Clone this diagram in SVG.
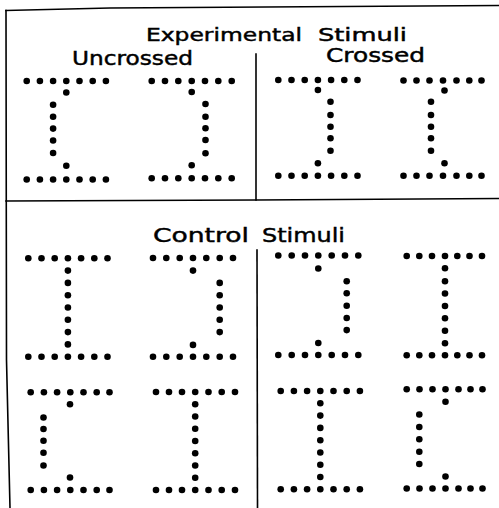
<svg xmlns="http://www.w3.org/2000/svg" width="499" height="508" viewBox="0 0 499 508">
<style>
.frame{fill:none;stroke:#000;stroke-width:1.6;stroke-linecap:square}
.t{font-family:"DejaVu Sans","Liberation Sans",sans-serif;fill:#000;stroke:#000;stroke-width:0.45}
circle{fill:#000}
</style>
<rect width="499" height="508" fill="#fff"/>
<g id="connectors">
<path class="frame" d="M6,10.5 L110,8 L499,5.5"/>
<path class="frame" d="M6,10.5 L6.5,360 L10,508"/>
<path class="frame" d="M6,201 L256,200 L499,198.5"/>
<path class="frame" d="M256,54 L256,200"/>
<path class="frame" d="M257,250 L257.5,508"/>
</g>
<g id="labels">
<text class="t" y="41" font-size="18"><tspan x="146" textLength="156" lengthAdjust="spacingAndGlyphs">Experimental</tspan><tspan x="318" textLength="89" lengthAdjust="spacingAndGlyphs">Stimuli</tspan></text>
<text class="t" x="72" y="65" font-size="19" textLength="121" lengthAdjust="spacingAndGlyphs">Uncrossed</text>
<text class="t" x="326" y="62" font-size="19" textLength="99" lengthAdjust="spacingAndGlyphs">Crossed</text>
<text class="t" y="242" font-size="20"><tspan x="153" textLength="96" lengthAdjust="spacingAndGlyphs">Control</tspan><tspan x="262" textLength="83" lengthAdjust="spacingAndGlyphs">Stimuli</tspan></text>
</g>
<g id="exp-uncrossed-1">
<circle cx="26.7" cy="81" r="3.3"/><circle cx="39.9" cy="81" r="3.3"/><circle cx="53.1" cy="81" r="3.3"/><circle cx="66.3" cy="81" r="3.3"/><circle cx="79.5" cy="81" r="3.3"/><circle cx="92.7" cy="81" r="3.3"/><circle cx="105.9" cy="81" r="3.3"/>
<circle cx="66.3" cy="92.5" r="3.3"/>
<circle cx="53.1" cy="104.8" r="3.3"/><circle cx="53.1" cy="116.8" r="3.3"/><circle cx="53.1" cy="128.6" r="3.3"/><circle cx="53.1" cy="140.5" r="3.3"/><circle cx="53.1" cy="153" r="3.3"/>
<circle cx="66.3" cy="165.8" r="3.3"/>
<circle cx="26.7" cy="179.5" r="3.3"/><circle cx="39.9" cy="179.5" r="3.3"/><circle cx="53.1" cy="179.5" r="3.3"/><circle cx="66.3" cy="179.5" r="3.3"/><circle cx="79.5" cy="179.5" r="3.3"/><circle cx="92.7" cy="179.5" r="3.3"/><circle cx="105.9" cy="179.5" r="3.3"/>
</g>
<g id="exp-uncrossed-2">
<circle cx="151.7" cy="81" r="3.3"/><circle cx="165" cy="81" r="3.3"/><circle cx="178.3" cy="81" r="3.3"/><circle cx="191.7" cy="81" r="3.3"/><circle cx="205" cy="81" r="3.3"/><circle cx="218.3" cy="81" r="3.3"/><circle cx="231.7" cy="81" r="3.3"/>
<circle cx="191.7" cy="92" r="3.3"/>
<circle cx="205.5" cy="104" r="3.3"/><circle cx="205.5" cy="116.7" r="3.3"/><circle cx="205.5" cy="128.3" r="3.3"/><circle cx="205.5" cy="140" r="3.3"/><circle cx="205.5" cy="153.3" r="3.3"/>
<circle cx="191.7" cy="165.3" r="3.3"/>
<circle cx="151.7" cy="178.3" r="3.3"/><circle cx="165" cy="178.3" r="3.3"/><circle cx="178.3" cy="178.3" r="3.3"/><circle cx="191.7" cy="178.3" r="3.3"/><circle cx="205" cy="178.3" r="3.3"/><circle cx="218.3" cy="178.3" r="3.3"/><circle cx="231.7" cy="178.3" r="3.3"/>
</g>
<g id="exp-crossed-1">
<circle cx="278.3" cy="80" r="3.3"/><circle cx="291.5" cy="80" r="3.3"/><circle cx="304.7" cy="80" r="3.3"/><circle cx="317.9" cy="80" r="3.3"/><circle cx="331.1" cy="80" r="3.3"/><circle cx="344.3" cy="80" r="3.3"/><circle cx="357.5" cy="80" r="3.3"/>
<circle cx="317.9" cy="90" r="3.3"/>
<circle cx="330.5" cy="101.7" r="3.3"/><circle cx="330.5" cy="115" r="3.3"/><circle cx="330.5" cy="126.7" r="3.3"/><circle cx="330.5" cy="138.3" r="3.3"/><circle cx="330.5" cy="150.7" r="3.3"/>
<circle cx="317.9" cy="163.3" r="3.3"/>
<circle cx="278.3" cy="175.7" r="3.3"/><circle cx="291.5" cy="175.7" r="3.3"/><circle cx="304.7" cy="175.7" r="3.3"/><circle cx="317.9" cy="175.7" r="3.3"/><circle cx="331.1" cy="175.7" r="3.3"/><circle cx="344.3" cy="175.7" r="3.3"/><circle cx="357.5" cy="175.7" r="3.3"/>
</g>
<g id="exp-crossed-2">
<circle cx="403.5" cy="80.5" r="3.3"/><circle cx="416.5" cy="80.5" r="3.3"/><circle cx="429.5" cy="80.5" r="3.3"/><circle cx="443" cy="80.5" r="3.3"/><circle cx="456.5" cy="80.5" r="3.3"/><circle cx="469.3" cy="80.5" r="3.3"/><circle cx="481.5" cy="80.5" r="3.3"/>
<circle cx="444.5" cy="90.5" r="3.3"/>
<circle cx="431" cy="101.7" r="3.3"/><circle cx="431" cy="115" r="3.3"/><circle cx="431" cy="126.7" r="3.3"/><circle cx="431" cy="138.3" r="3.3"/><circle cx="431" cy="150.7" r="3.3"/>
<circle cx="444.5" cy="163.3" r="3.3"/>
<circle cx="403.5" cy="175.7" r="3.3"/><circle cx="416.5" cy="175.7" r="3.3"/><circle cx="429.5" cy="175.7" r="3.3"/><circle cx="443" cy="175.7" r="3.3"/><circle cx="456.5" cy="175.7" r="3.3"/><circle cx="469.3" cy="175.7" r="3.3"/><circle cx="481.5" cy="175.7" r="3.3"/>
</g>
<g id="ctrl-1">
<circle cx="28.3" cy="258.3" r="3.3"/><circle cx="41.5" cy="258.3" r="3.3"/><circle cx="54.7" cy="258.3" r="3.3"/><circle cx="67.9" cy="258.3" r="3.3"/><circle cx="81.1" cy="258.3" r="3.3"/><circle cx="94.3" cy="258.3" r="3.3"/><circle cx="107.5" cy="258.3" r="3.3"/>
<circle cx="67.9" cy="270.6" r="3.3"/><circle cx="67.9" cy="282.9" r="3.3"/><circle cx="67.9" cy="295.2" r="3.3"/><circle cx="67.9" cy="307.5" r="3.3"/><circle cx="67.9" cy="319.8" r="3.3"/><circle cx="67.9" cy="332.1" r="3.3"/><circle cx="67.9" cy="344.4" r="3.3"/>
<circle cx="28.3" cy="356.7" r="3.3"/><circle cx="41.5" cy="356.7" r="3.3"/><circle cx="54.7" cy="356.7" r="3.3"/><circle cx="67.9" cy="356.7" r="3.3"/><circle cx="81.1" cy="356.7" r="3.3"/><circle cx="94.3" cy="356.7" r="3.3"/><circle cx="107.5" cy="356.7" r="3.3"/>
</g>
<g id="ctrl-2">
<circle cx="153" cy="258" r="3.3"/><circle cx="166.3" cy="258" r="3.3"/><circle cx="179.7" cy="258" r="3.3"/><circle cx="193" cy="258" r="3.3"/><circle cx="206.3" cy="258" r="3.3"/><circle cx="219.7" cy="258" r="3.3"/><circle cx="233" cy="258" r="3.3"/>
<circle cx="193" cy="270.6" r="3.3"/>
<circle cx="219.7" cy="282.9" r="3.3"/><circle cx="219.7" cy="295.2" r="3.3"/><circle cx="219.7" cy="307.5" r="3.3"/><circle cx="219.7" cy="319.8" r="3.3"/><circle cx="219.7" cy="332.1" r="3.3"/>
<circle cx="193" cy="344.9" r="3.3"/>
<circle cx="153" cy="356.7" r="3.3"/><circle cx="166.3" cy="356.7" r="3.3"/><circle cx="179.7" cy="356.7" r="3.3"/><circle cx="193" cy="356.7" r="3.3"/><circle cx="206.3" cy="356.7" r="3.3"/><circle cx="219.7" cy="356.7" r="3.3"/><circle cx="233" cy="356.7" r="3.3"/>
</g>
<g id="ctrl-3">
<circle cx="278.3" cy="255.5" r="3.3"/><circle cx="291.7" cy="255.5" r="3.3"/><circle cx="305" cy="255.5" r="3.3"/><circle cx="318.3" cy="255.5" r="3.3"/><circle cx="331.7" cy="255.5" r="3.3"/><circle cx="345" cy="255.5" r="3.3"/><circle cx="358.3" cy="255.5" r="3.3"/>
<circle cx="318.3" cy="268.5" r="3.3"/>
<circle cx="346.7" cy="281.2" r="3.3"/><circle cx="346.7" cy="293.2" r="3.3"/><circle cx="346.7" cy="305.8" r="3.3"/><circle cx="346.7" cy="318" r="3.3"/><circle cx="346.7" cy="330.1" r="3.3"/>
<circle cx="318.3" cy="343" r="3.3"/>
<circle cx="278.3" cy="355" r="3.3"/><circle cx="291.7" cy="355" r="3.3"/><circle cx="305" cy="355" r="3.3"/><circle cx="318.3" cy="355" r="3.3"/><circle cx="331.7" cy="355" r="3.3"/><circle cx="345" cy="355" r="3.3"/><circle cx="358.3" cy="355" r="3.3"/>
</g>
<g id="ctrl-4">
<circle cx="406.7" cy="256" r="3.3"/><circle cx="419.3" cy="256" r="3.3"/><circle cx="432" cy="256" r="3.3"/><circle cx="445" cy="256" r="3.3"/><circle cx="457.3" cy="256" r="3.3"/><circle cx="469.5" cy="256" r="3.3"/><circle cx="482" cy="256" r="3.3"/>
<circle cx="445" cy="268.3" r="3.3"/><circle cx="445" cy="281.2" r="3.3"/><circle cx="445" cy="293.5" r="3.3"/><circle cx="445" cy="306" r="3.3"/><circle cx="445" cy="318.3" r="3.3"/><circle cx="445" cy="330.8" r="3.3"/><circle cx="445" cy="343.2" r="3.3"/>
<circle cx="406.7" cy="355.2" r="3.3"/><circle cx="419.3" cy="355.2" r="3.3"/><circle cx="432" cy="355.2" r="3.3"/><circle cx="445" cy="355.2" r="3.3"/><circle cx="457.3" cy="355.2" r="3.3"/><circle cx="469.5" cy="355.2" r="3.3"/><circle cx="482" cy="355.2" r="3.3"/>
</g>
<g id="ctrl-5">
<circle cx="30.7" cy="392.3" r="3.3"/><circle cx="43.9" cy="392.3" r="3.3"/><circle cx="57.1" cy="392.3" r="3.3"/><circle cx="70.3" cy="392.3" r="3.3"/><circle cx="83.5" cy="392.3" r="3.3"/><circle cx="96.7" cy="392.3" r="3.3"/><circle cx="109.5" cy="392.3" r="3.3"/>
<circle cx="70" cy="404.3" r="3.3"/>
<circle cx="43.5" cy="417.5" r="3.3"/><circle cx="43.5" cy="429" r="3.3"/><circle cx="43.5" cy="440.8" r="3.3"/><circle cx="43.5" cy="452.7" r="3.3"/><circle cx="43.5" cy="465.5" r="3.3"/>
<circle cx="70" cy="477.5" r="3.3"/>
<circle cx="30.7" cy="490" r="3.3"/><circle cx="43.9" cy="490" r="3.3"/><circle cx="57.1" cy="490" r="3.3"/><circle cx="70.3" cy="490" r="3.3"/><circle cx="83.5" cy="490" r="3.3"/><circle cx="96.7" cy="490" r="3.3"/><circle cx="109.5" cy="490" r="3.3"/>
</g>
<g id="ctrl-6">
<circle cx="156" cy="392" r="3.3"/><circle cx="169" cy="392" r="3.3"/><circle cx="182" cy="392" r="3.3"/><circle cx="195.2" cy="392" r="3.3"/><circle cx="208.5" cy="392" r="3.3"/><circle cx="221.7" cy="392" r="3.3"/><circle cx="235" cy="392" r="3.3"/>
<circle cx="195.2" cy="404.2" r="3.3"/><circle cx="195.2" cy="416.5" r="3.3"/><circle cx="195.2" cy="428.7" r="3.3"/><circle cx="195.2" cy="441" r="3.3"/><circle cx="195.2" cy="453.2" r="3.3"/><circle cx="195.2" cy="465.5" r="3.3"/><circle cx="195.2" cy="477.7" r="3.3"/>
<circle cx="156" cy="490" r="3.3"/><circle cx="169" cy="490" r="3.3"/><circle cx="182" cy="490" r="3.3"/><circle cx="195.2" cy="490" r="3.3"/><circle cx="208.5" cy="490" r="3.3"/><circle cx="221.7" cy="490" r="3.3"/><circle cx="235" cy="490" r="3.3"/>
</g>
<g id="ctrl-7">
<circle cx="280.7" cy="391" r="3.3"/><circle cx="293.9" cy="391" r="3.3"/><circle cx="307.1" cy="391" r="3.3"/><circle cx="320.3" cy="391" r="3.3"/><circle cx="333.5" cy="391" r="3.3"/><circle cx="346.7" cy="391" r="3.3"/><circle cx="359.9" cy="391" r="3.3"/>
<circle cx="320.3" cy="403.3" r="3.3"/><circle cx="320.3" cy="415.6" r="3.3"/><circle cx="320.3" cy="427.9" r="3.3"/><circle cx="320.3" cy="440.2" r="3.3"/><circle cx="320.3" cy="452.5" r="3.3"/><circle cx="320.3" cy="464.7" r="3.3"/><circle cx="320.3" cy="477" r="3.3"/>
<circle cx="280.7" cy="489.3" r="3.3"/><circle cx="293.9" cy="489.3" r="3.3"/><circle cx="307.1" cy="489.3" r="3.3"/><circle cx="320.3" cy="489.3" r="3.3"/><circle cx="333.5" cy="489.3" r="3.3"/><circle cx="346.7" cy="489.3" r="3.3"/><circle cx="359.9" cy="489.3" r="3.3"/>
</g>
<g id="ctrl-8">
<circle cx="406.7" cy="389.3" r="3.3"/><circle cx="419.5" cy="389.3" r="3.3"/><circle cx="432.5" cy="389.3" r="3.3"/><circle cx="445.5" cy="389.3" r="3.3"/><circle cx="458.5" cy="389.3" r="3.3"/><circle cx="470.5" cy="389.3" r="3.3"/><circle cx="482.5" cy="389.3" r="3.3"/>
<circle cx="445.5" cy="401.7" r="3.3"/>
<circle cx="419.3" cy="414.5" r="3.3"/><circle cx="419.3" cy="427" r="3.3"/><circle cx="419.3" cy="439.3" r="3.3"/><circle cx="419.3" cy="451.7" r="3.3"/><circle cx="419.3" cy="464" r="3.3"/>
<circle cx="445.5" cy="476.5" r="3.3"/>
<circle cx="406.7" cy="488.5" r="3.3"/><circle cx="419.5" cy="488.5" r="3.3"/><circle cx="432.5" cy="488.5" r="3.3"/><circle cx="445.5" cy="488.5" r="3.3"/><circle cx="458.5" cy="488.5" r="3.3"/><circle cx="470.5" cy="488.5" r="3.3"/><circle cx="482.5" cy="488.5" r="3.3"/>
</g>
</svg>
